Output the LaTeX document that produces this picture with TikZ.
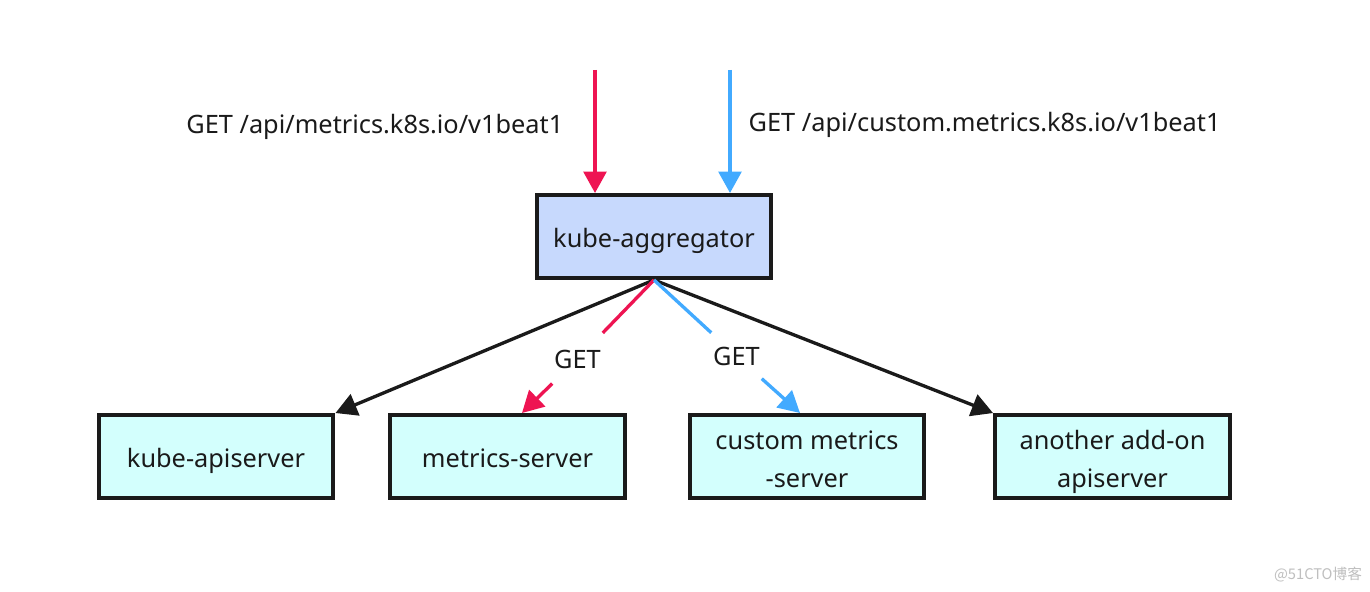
\documentclass[tikz,border=0pt]{standalone}
\usepackage{fontspec}
\setmainfont{Noto Sans}
\newfontfamily\cjkfont{Noto Sans CJK SC}
\usetikzlibrary{arrows.meta,calc}
\definecolor{redc}{RGB}{238,20,82}
\definecolor{bluec}{RGB}{66,170,255}
\definecolor{aggfill}{RGB}{199,217,253}
\definecolor{srvfill}{RGB}{211,255,253}
\definecolor{inkc}{RGB}{26,26,26}
\tikzset{
  box/.style={draw=inkc, line width=3.2pt, minimum width=176pt, minimum height=62pt, inner sep=0pt, align=center, text height=20pt, text depth=4pt, font=\fontsize{19}{28.5}\selectfont, text=inkc},
  boxtwo/.style={box, text height=49.8pt, text depth=4pt},
  conn/.style={line width=2.5pt, -{Triangle[length=16pt,width=17pt]}},
  plain/.style={line width=2.5pt},
  lbl/.style={font=\fontsize{19}{22}\selectfont, text=inkc},
  gap/.style={minimum width=37.5pt, minimum height=40.5pt, inner sep=0pt, font=\fontsize{19}{22}\selectfont, text=inkc}
}
\begin{document}
\begin{tikzpicture}[x=0.75pt,y=-0.75pt]
\useasboundingbox[fill=white] (0,0) rectangle (1370,592);
\node[box, fill=aggfill] (agg) at (654,236.5) {kube-aggregator};
\node[box, fill=srvfill] (kas) at (216,456.5) {kube-apiserver};
\node[box, fill=srvfill] (ms) at (507.5,456.5) {metrics-server};
\node[boxtwo, fill=srvfill] (cms) at (807,456.5) {custom metrics\\-server};
\node[boxtwo, fill=srvfill] (aas) at (1112.5,456.5) {another add-on\\apiserver};
\coordinate (rtop) at (595,70);
\coordinate (btop) at (730,70);
\node[lbl, anchor=east] (l1) at (568,127) {GET /api/metrics.k8s.io/v1beat1};
\node[lbl, anchor=west] (l2) at (744,125) {GET /api/custom.metrics.k8s.io/v1beat1};
\draw[conn, redc] (rtop) -- (rtop |- agg.north);
\draw[conn, bluec] (btop) -- (btop |- agg.north);
\draw[conn, inkc] (agg.south) -- (kas.north east);
\draw[conn, inkc] (agg.south) -- (aas.north west);
\node[gap] (g1) at (577.5,359) {GET};
\node[gap] (g2) at (736.5,356) {GET};
\coordinate (mst) at (522,413);
\coordinate (cmst) at (800,413);
\draw[plain, redc] (agg.south) -- (g1);
\draw[conn, redc] (g1) -- (mst);
\draw[plain, bluec] (agg.south) -- (g2);
\draw[conn, bluec] (g2) -- (cmst);
\node[font=\cjkfont\fontsize{11}{12}\selectfont, text=black!25] (wm) at (1318,575) {@51CTO博客};
\end{tikzpicture}
\end{document}
